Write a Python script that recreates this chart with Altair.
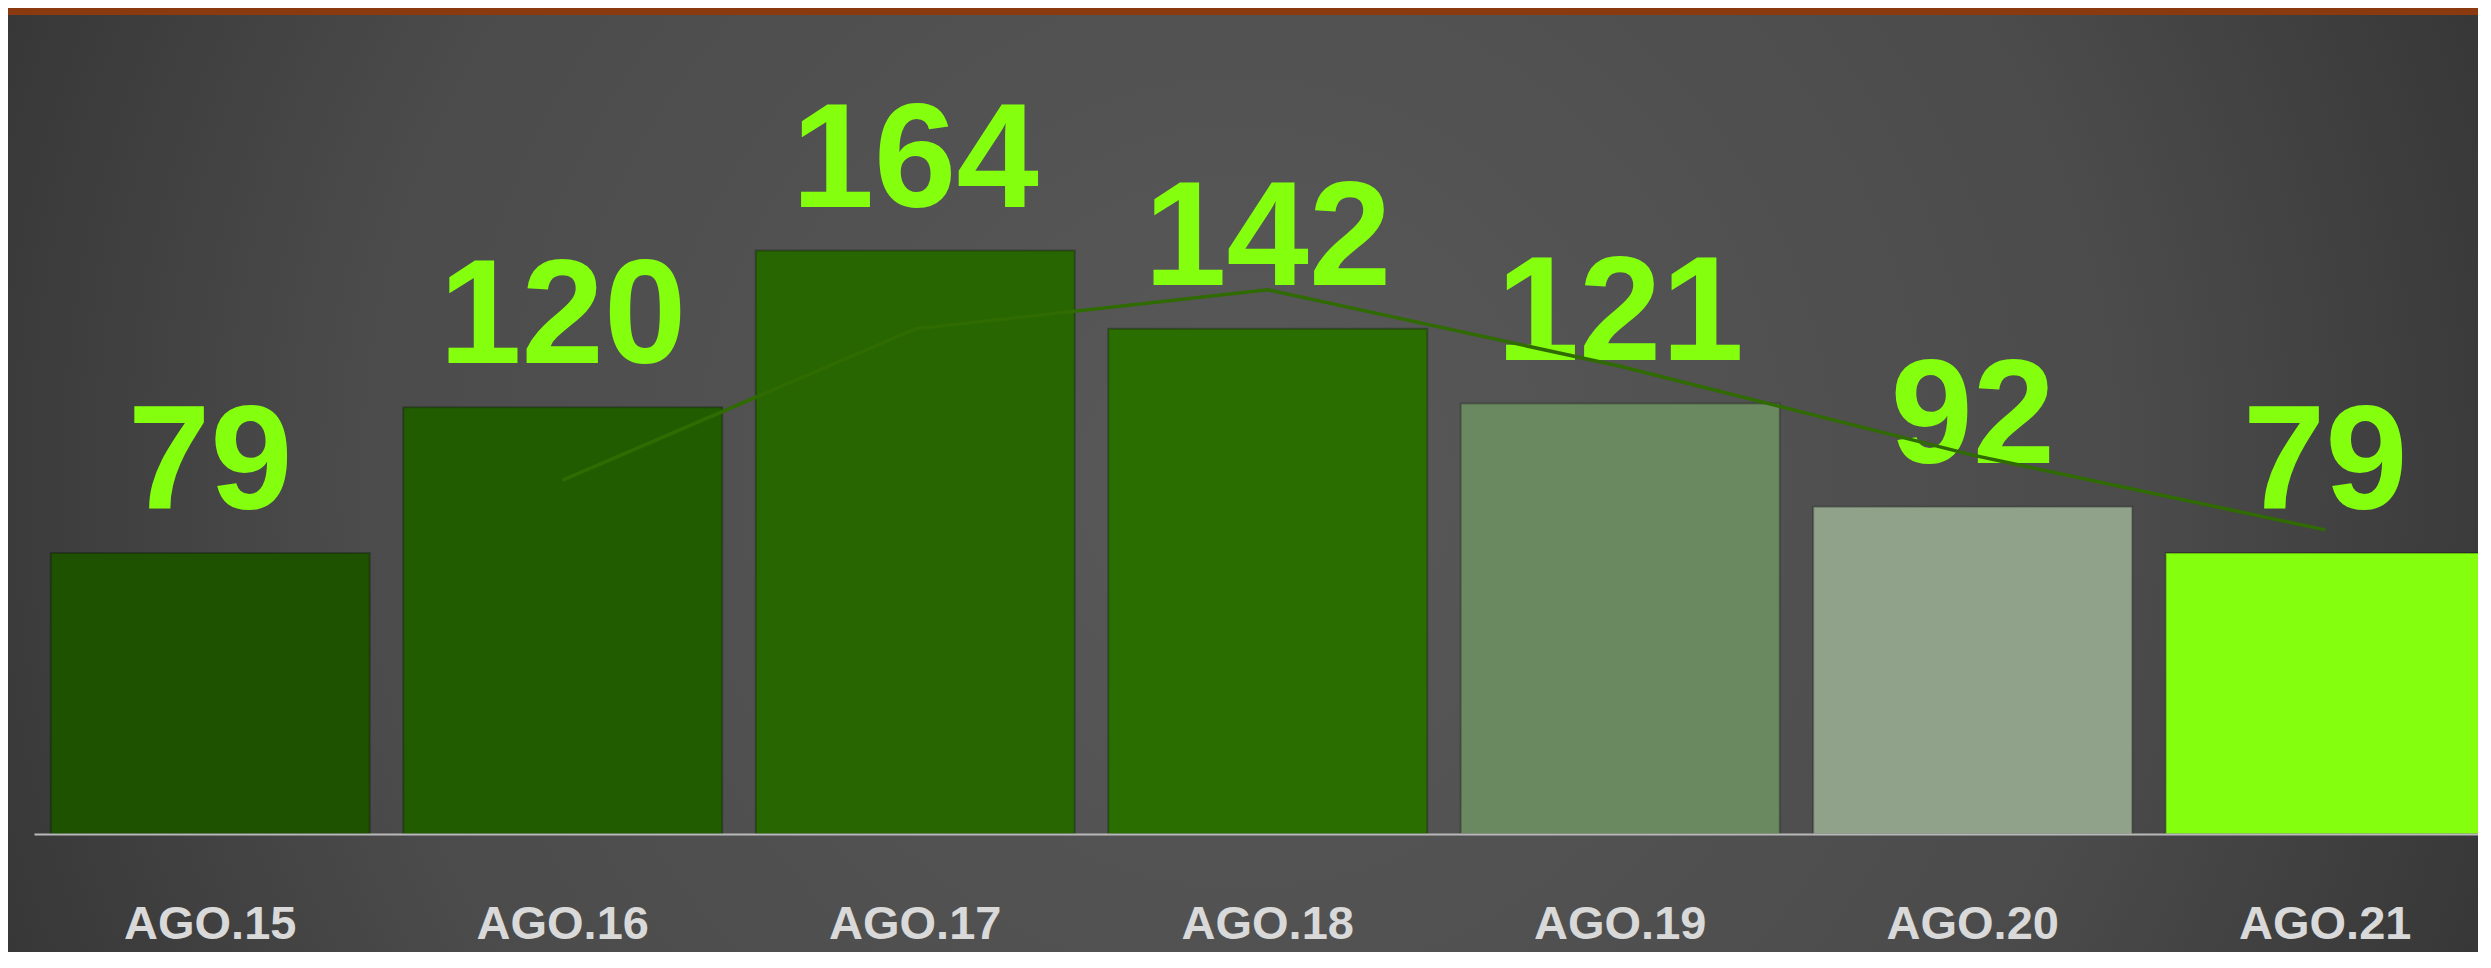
import altair as alt
import pandas as pd

# ---- data ----
categories = ["AGO.15", "AGO.16", "AGO.17", "AGO.18", "AGO.19", "AGO.20", "AGO.21"]
values = [79, 120, 164, 142, 121, 92, 79]
bar_colors = ["#1f5200", "#225c00", "#276600", "#2b6e00", "#6b8961", "#91a28b", "#84ff0e"]

df = pd.DataFrame({"cat": categories, "value": values, "order": list(range(len(values)))})

W, H = 2470, 826
PAD_BOTTOM = 118
FONT = "Liberation Sans, Arial, sans-serif"

x_scale = alt.Scale(domain=categories, range=[26, 2493.5], paddingInner=0.095, paddingOuter=0.0475)
y_scale = alt.Scale(domain=[0, 232.2], range=[H, 0], nice=False, zero=True)

one = pd.DataFrame({"a": [0]})

background = alt.Chart(one).mark_rect(
    fill={
        "gradient": "radial",
        "x1": 0.5, "y1": 0.5, "r1": 0,
        "x2": 0.5, "y2": 0.5, "r2": 0.72,
        "stops": [
            {"offset": 0, "color": "#595959"},
            {"offset": 0.5, "color": "#4b4b4b"},
            {"offset": 1, "color": "#222222"},
        ],
    }
).encode(x=alt.value(-2), x2=alt.value(W), y=alt.value(7), y2=alt.value(H + PAD_BOTTOM))

stripe = alt.Chart(one).mark_rect(fill="#8a3a0e").encode(
    x=alt.value(0), x2=alt.value(W), y=alt.value(0), y2=alt.value(7)
)

x_enc = alt.X(
    "cat:N",
    scale=x_scale,
    sort=categories,
    axis=alt.Axis(
        title=None,
        domain=True,
        domainColor="#b9b9b9",
        domainWidth=2,
        ticks=False,
        grid=False,
        labelAngle=0,
        labelFont=FONT,
        labelFontWeight="bold",
        labelFontSize=47,
        labelColor="#d9d9d9",
        labelBaseline="alphabetic",
        labelPadding=104,
        labelLimit=0,
        labelOverlap=False,
        zindex=1,
    ),
)

bars = alt.Chart(df).mark_bar(stroke="#000000", strokeOpacity=0.25, strokeWidth=2).encode(
    x=x_enc,
    y=alt.Y("value:Q", scale=y_scale, axis=None),
    color=alt.Color("cat:N", scale=alt.Scale(domain=categories, range=bar_colors), legend=None),
)

labels = alt.Chart(df).mark_text(
    font=FONT, fontWeight="bold", fontSize=148, color="#84ff0e", baseline="alphabetic", dy=-44
).encode(
    x=alt.X("cat:N", scale=x_scale, sort=categories),
    y=alt.Y("value:Q", scale=y_scale),
    text=alt.Text("value:Q"),
)

trend = alt.Chart(df).transform_window(
    ma="mean(value)", frame=[-1, 0], sort=[alt.SortField("order")]
).transform_window(
    rn="row_number()", sort=[alt.SortField("order")]
).transform_filter("datum.rn > 1").mark_line(color="#2f6b00", strokeWidth=3.5).encode(
    x=alt.X("cat:N", scale=x_scale, sort=categories),
    y=alt.Y("ma:Q", scale=y_scale),
)

chart = alt.layer(background, stripe, bars, labels, trend).properties(
    width=W,
    height=H,
    padding={"left": 0, "top": 0, "right": 0, "bottom": PAD_BOTTOM},
    autosize=alt.AutoSizeParams(type="none"),
    background="white",
).configure_view(strokeWidth=0)

chart.save("out.html", embed_options={"renderer": "svg", "actions": False})
